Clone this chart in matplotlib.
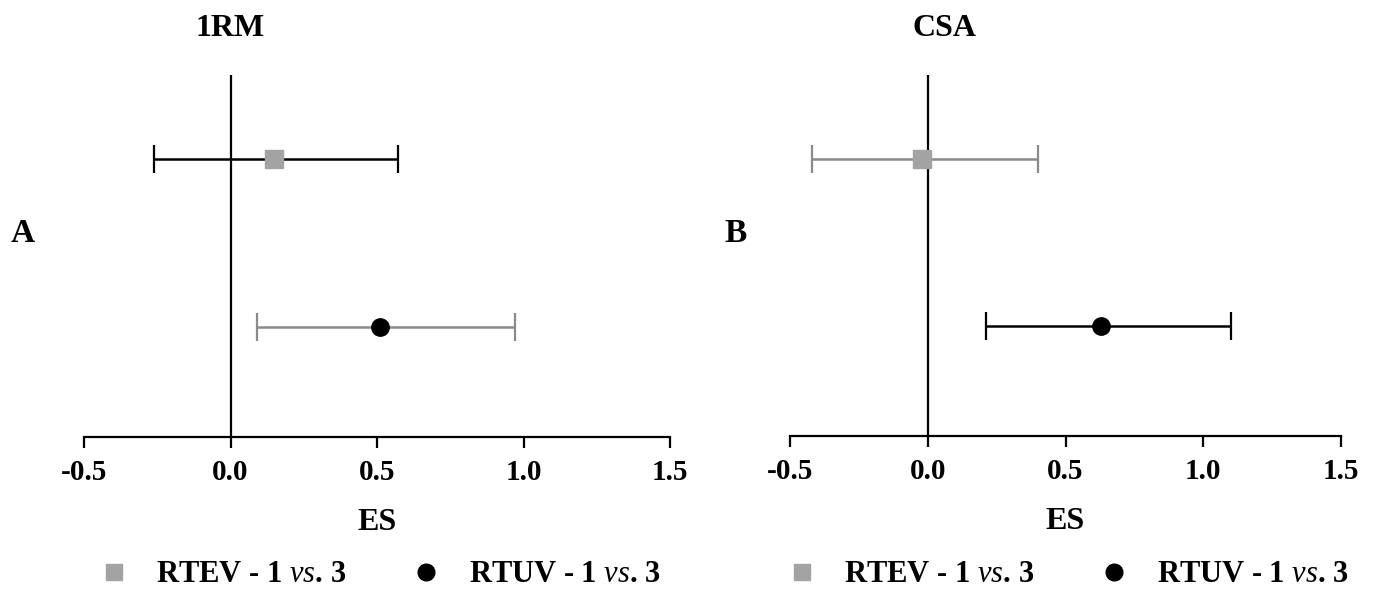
import matplotlib
matplotlib.use("Agg")
import matplotlib.pyplot as plt
from matplotlib.lines import Line2D

plt.rcParams['font.family'] = ['Liberation Serif', 'DejaVu Serif']
plt.rcParams['mathtext.fontset'] = 'custom'
plt.rcParams['mathtext.rm'] = 'Liberation Serif:bold'
plt.rcParams['mathtext.it'] = 'Liberation Serif:italic'

# ======================
# DONNÉES
# ======================

panels = ["1RM", "CSA"]
letters = ["A", "B"]
series = [r"RTEV - 1 $vs.\,$3", r"RTUV - 1 $vs.\,$3"]

# effect size, lower CI, upper CI  (order: RTEV, RTUV)
es_1rm = [0.15, 0.51]
lo_1rm = [-0.26, 0.09]
hi_1rm = [0.57, 0.97]

es_csa = [-0.02, 0.63]
lo_csa = [-0.42, 0.21]
hi_csa = [0.40, 1.10]

xticks = [-0.5, 0.0, 0.5, 1.0, 1.5]
xticklabels = ["-0.5", "0.0", "0.5", "1.0", "1.5"]

# ======================
# STYLE
# ======================

square_col = "#a3a3a3"
grey_line = "#8a8a8a"
markers = ["s", "o"]
marker_cols = [square_col, "black"]
ci_cols = [["black", grey_line], [grey_line, "black"]]

rows = [2, 1]

fig = plt.figure(figsize=(13.74, 5.91), dpi=100)

ax_pos = [
    [84 / 1374, 1 - 437 / 591, 586 / 1374, 362 / 591],
    [790 / 1374, 1 - 436 / 591, 551 / 1374, 361 / 591],
]
title_x = [230 / 1374, 944 / 1374]
letter_x = [23 / 1374, 736 / 1374]
legend_x = [378 / 1374, 1066 / 1374]

data = [(es_1rm, lo_1rm, hi_1rm), (es_csa, lo_csa, hi_csa)]

for p in range(2):
    ax = fig.add_axes(ax_pos[p])
    es, lo, hi = data[p]

    ax.axvline(0, color="black", lw=1.6, zorder=1)

    for i in range(2):
        err = [[es[i] - lo[i]], [hi[i] - es[i]]]
        ax.errorbar([es[i]], [rows[i]], xerr=err, fmt="none",
                    ecolor=ci_cols[p][i], elinewidth=1.8, capsize=10,
                    capthick=1.6, zorder=2)
        ax.plot(es[i], rows[i], marker=markers[i], color=marker_cols[i],
                ms=12.5, ls="none", zorder=3)

    ax.set_xlim(-0.5, 1.5)
    ax.set_ylim(0.345, 2.5)
    for s in ["top", "right", "left"]:
        ax.spines[s].set_visible(False)
    ax.spines["bottom"].set_linewidth(1.6)
    ax.set_yticks([])
    ax.set_xticks(xticks)
    ax.set_xticklabels(xticklabels, fontsize=21, fontweight="bold")
    ax.tick_params(axis="x", length=8, width=1.6, pad=8)
    ax.set_xlabel("ES", fontsize=23, fontweight="bold", labelpad=16)

    fig.text(title_x[p], 1 - 28 / 591, panels[p], fontsize=23,
             fontweight="bold", ha="center", va="center")
    fig.text(letter_x[p], 1 - 233 / 591, letters[p], fontsize=24,
             fontweight="bold", ha="center", va="center")

    handles = [Line2D([], [], marker=markers[k], color=marker_cols[k],
                      ls="none", ms=12) for k in range(2)]
    fig.legend(handles, series, loc="center", ncol=2, frameon=False,
               bbox_to_anchor=(legend_x[p], 1 - 575 / 591),
               prop={"size": 22, "weight": "bold"},
               columnspacing=2.0, handletextpad=0.8, handlelength=1.2)

fig.savefig("out.png", dpi=100)
